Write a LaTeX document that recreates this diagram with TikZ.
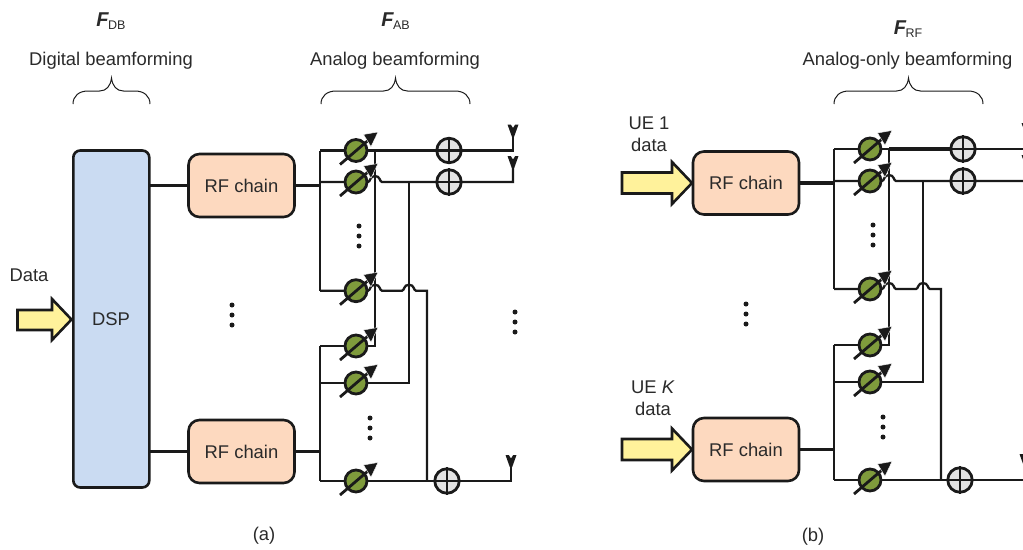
\documentclass[tikz,border=0pt]{standalone}
\usepackage{fontspec}
\setmainfont{Liberation Sans}
\usetikzlibrary{calc}
\definecolor{dspblue}{HTML}{CADBF2}
\definecolor{rforange}{HTML}{FDD9BF}
\definecolor{psgreen}{HTML}{7F9B3C}
\definecolor{addgray}{HTML}{E3E3E3}
\definecolor{inyellow}{HTML}{FFF29B}
\definecolor{ink}{HTML}{1A1A1A}
\definecolor{txt}{HTML}{2A2A2A}
\newcommand{\Fsub}[1]{{\fontsize{20}{22}\selectfont\bfseries\itshape F}\kern-.5pt\raisebox{-2.5pt}{\fontsize{12.5}{14}\selectfont #1}}
\begin{document}
\begin{tikzpicture}[x=1pt,y=-1pt,line join=miter,
 wire/.style={draw=ink,line width=2.3pt},
 thick wire/.style={draw=ink,line width=3.2pt},
 lbl/.style={font=\fontsize{18.4}{22}\selectfont,text=txt,inner sep=0pt,align=center},
 block/.style={draw=ink,line width=2.6pt,rounded corners=11pt,inner sep=0pt},
 dspblock/.style={draw=ink,line width=2.6pt,rounded corners=7pt,inner sep=0pt},
 bracket/.style={draw=ink,line width=1pt},
 dotmark/.style={circle,fill=ink,inner sep=0pt,minimum size=5pt},
 arrowin/.style={draw=ink,line width=2.6pt,fill=inyellow,line join=miter}]
\useasboundingbox (0,0) rectangle (1023,549);
\clip (0,0) rectangle (1023,549);
\newcommand{\psh}[3]{%
  \node[circle,draw=ink,line width=2.8pt,fill=psgreen,minimum size=22pt,inner sep=0pt] (#3) at (#1,#2) {};
  \draw[draw=ink,line width=2.8pt] ($(#3)+(-16,14)$) -- ($(#3)+(12,-10)$);
  \filldraw[fill=ink,draw=white,line width=.4pt] ($(#3)+(22,-18.5)$) -- ($(#3)+(7.5,-16)$) -- ($(#3)+(15,-3.8)$) -- cycle;}
\newcommand{\adder}[3]{%
  \node[circle,draw=ink,line width=2.8pt,fill=addgray,minimum size=24.5pt,inner sep=0pt] (#3) at (#1,#2) {};
  \draw[draw=ink,line width=2.8pt] (#3.north) -- (#3.south) (#3.west) -- (#3.east);}
\newcommand{\antenna}[3]{%
  \coordinate (#3) at (#1,#2);
  \draw[wire] (#3) -- ++(0,-16);
  \fill[ink] ($(#3)+(-5.5,-26)$) -- ($(#3)+(-2.2,-26)$) -- ($(#3)+(0,-22.5)$) -- ($(#3)+(2.2,-26)$) -- ($(#3)+(5.5,-26)$) -- ($(#3)+(1.2,-14)$) -- ($(#3)+(-1.2,-14)$) -- cycle;}
\newcommand{\hop}[2]{-- (#1-7,#2) .. controls (#1-4.5,#2) and (#1-5.5,#2-6) .. (#1,#2-6) .. controls (#1+5.5,#2-6) and (#1+4.5,#2) .. (#1+7,#2)}
\newcommand{\vdotsmark}[2]{\node[dotmark] at (#1,#2-10) {};\node[dotmark] at (#1,#2) {};\node[dotmark] at (#1,#2+10) {};}
\newcommand{\brk}[2]{% left x, right x
  \draw[bracket] (#1,104) .. controls (#1,96) and (#1+6,91) .. (#1+15,91) -- ({(#1+#2)/2-12},91) .. controls ({(#1+#2)/2-5},91) and ({(#1+#2)/2-1},86) .. ({(#1+#2)/2},78) .. controls ({(#1+#2)/2+1},86) and ({(#1+#2)/2+5},91) .. ({(#1+#2)/2+12},91) -- (#2-15,91) .. controls (#2-6,91) and (#2,96) .. (#2,104);}
% ---- panel a
\node[lbl] (ta1) at (111,21) {\Fsub{DB}};
\node[lbl] (ta2) at (111,61) {Digital beamforming};
\node[lbl] (ta3) at (395.5,21) {\Fsub{AB}};
\node[lbl] (ta4) at (395,61) {Analog beamforming};
\brk{73}{150}
\brk{321}{470}
\node[dspblock,fill=dspblue,minimum width=76pt,minimum height=337pt] (dsp) at (111.3,319) {};
\node[lbl] at (111,319) {DSP};
\node[block,fill=rforange,minimum width=106pt,minimum height=63pt] (rf1) at (241.5,185.5) {};
\node[lbl] at (rf1) {RF chain};
\node[block,fill=rforange,minimum width=106pt,minimum height=63pt] (rf2) at (241.5,451.5) {};
\node[lbl] at (rf2) {RF chain};
\node[lbl] (dlab) at (29,275) {Data};
\draw[arrowin] (17.5,310) -- (52,310) -- (52,299) -- (71.5,319.5) -- (52,340) -- (52,330) -- (17.5,330) -- cycle;
\coordinate (d1) at (150,185.5); \coordinate (d2) at (150,451.5);
\draw[wire] (d1) -- (rf1.west);
\draw[wire] (d2) -- (rf2.west);
\coordinate (ba1) at (320,185.5); \coordinate (ba2) at (320,451.5);
\draw[thick wire] (rf1.east) -- (ba1);
\draw[thick wire] (rf2.east) -- (ba2);
\draw[wire] (320,150.5) -- (320,290.7);
\draw[wire] (320,346) -- (320,481);
% wires
\draw[wire] (320,150.5) -- (513,150.5) -- (513,130);
\draw[thick wire] (375,150.5) -- (449,150.5);
\draw[wire] (320,182) \hop{375}{182} -- (513,182) -- (513,162);
\draw[wire] (320,290.7) \hop{375}{290.7} \hop{409}{290.7} -- (427,290.7) -- (427,481);
\draw[wire] (320,346) -- (375,346) -- (375,150.5);
\draw[wire] (320,383) -- (409,383) -- (409,182);
\draw[wire] (320,481) -- (511,481) -- (511,461);
\psh{356}{150.5}{a1}\psh{356}{182}{a2}\psh{356}{290.7}{a3}\psh{356}{346}{a4}\psh{356}{383}{a5}\psh{356}{481}{a6}
\adder{449}{150.5}{sa1}\adder{449}{182}{sa2}\adder{447}{481}{sa3}
\antenna{513}{150.5}{an1}\antenna{513}{182}{an2}\antenna{511}{481}{an3}
\vdotsmark{359}{236}\vdotsmark{370}{428}\vdotsmark{232}{315}\vdotsmark{515}{322}
\node[lbl] (capa) at (264,536) {(a)};
% ---- panel b
\node[lbl] (tb1) at (908,29) {\Fsub{RF}};
\node[lbl] (tb2) at (907.5,61) {Analog-only beamforming};
\brk{834}{983}
\node[block,fill=rforange,minimum width=106pt,minimum height=63pt] (rf3) at (746,183) {};
\node[lbl] at (rf3) {RF chain};
\node[block,fill=rforange,minimum width=106pt,minimum height=63pt] (rf4) at (746,449.5) {};
\node[lbl] at (rf4) {RF chain};
\node[lbl] (u1) at (649,134) {UE 1\\data};
\node[lbl] (u2) at (653,398.5) {UE \textit{K}\\data};
\draw[arrowin] (622,172.5) -- (672,172.5) -- (672,162) -- (692,183) -- (672,204) -- (672,193.5) -- (622,193.5) -- cycle;
\draw[arrowin] (622,439) -- (672,439) -- (672,428.5) -- (692,449.5) -- (672,470.5) -- (672,460) -- (622,460) -- cycle;
\coordinate (bb1) at (834,183); \coordinate (bb2) at (834,449.5);
\draw[thick wire] (rf3.east) -- (bb1);
\draw[wire] (rf4.east) -- (bb2);
\draw[wire] (834,149) -- (834,289);
\draw[wire] (834,345) -- (834,480);
\draw[wire] (834,149) -- (1030,149);
\draw[thick wire] (889,149) -- (963,149);
\draw[wire] (834,181) \hop{889}{181} -- (1030,181);
\draw[wire] (834,289) \hop{889}{289} \hop{923}{289} -- (941,289) -- (941,480);
\draw[wire] (834,345) -- (889,345) -- (889,149);
\draw[wire] (834,382) -- (923,382) -- (923,181);
\draw[wire] (834,480) -- (1030,480);
\psh{870}{149}{b1}\psh{870}{181}{b2}\psh{870}{289}{b3}\psh{870}{345}{b4}\psh{870}{382}{b5}\psh{870}{480}{b6}
\adder{963}{149}{sb1}\adder{963}{181}{sb2}\adder{960}{480}{sb3}
\antenna{1027}{149}{an4}\antenna{1027}{181}{an5}\antenna{1025}{480}{an6}
\vdotsmark{873}{235}\vdotsmark{883}{427}\vdotsmark{746}{314}
\node[lbl] (capb) at (813,537) {(b)};
\end{tikzpicture}
\end{document}
